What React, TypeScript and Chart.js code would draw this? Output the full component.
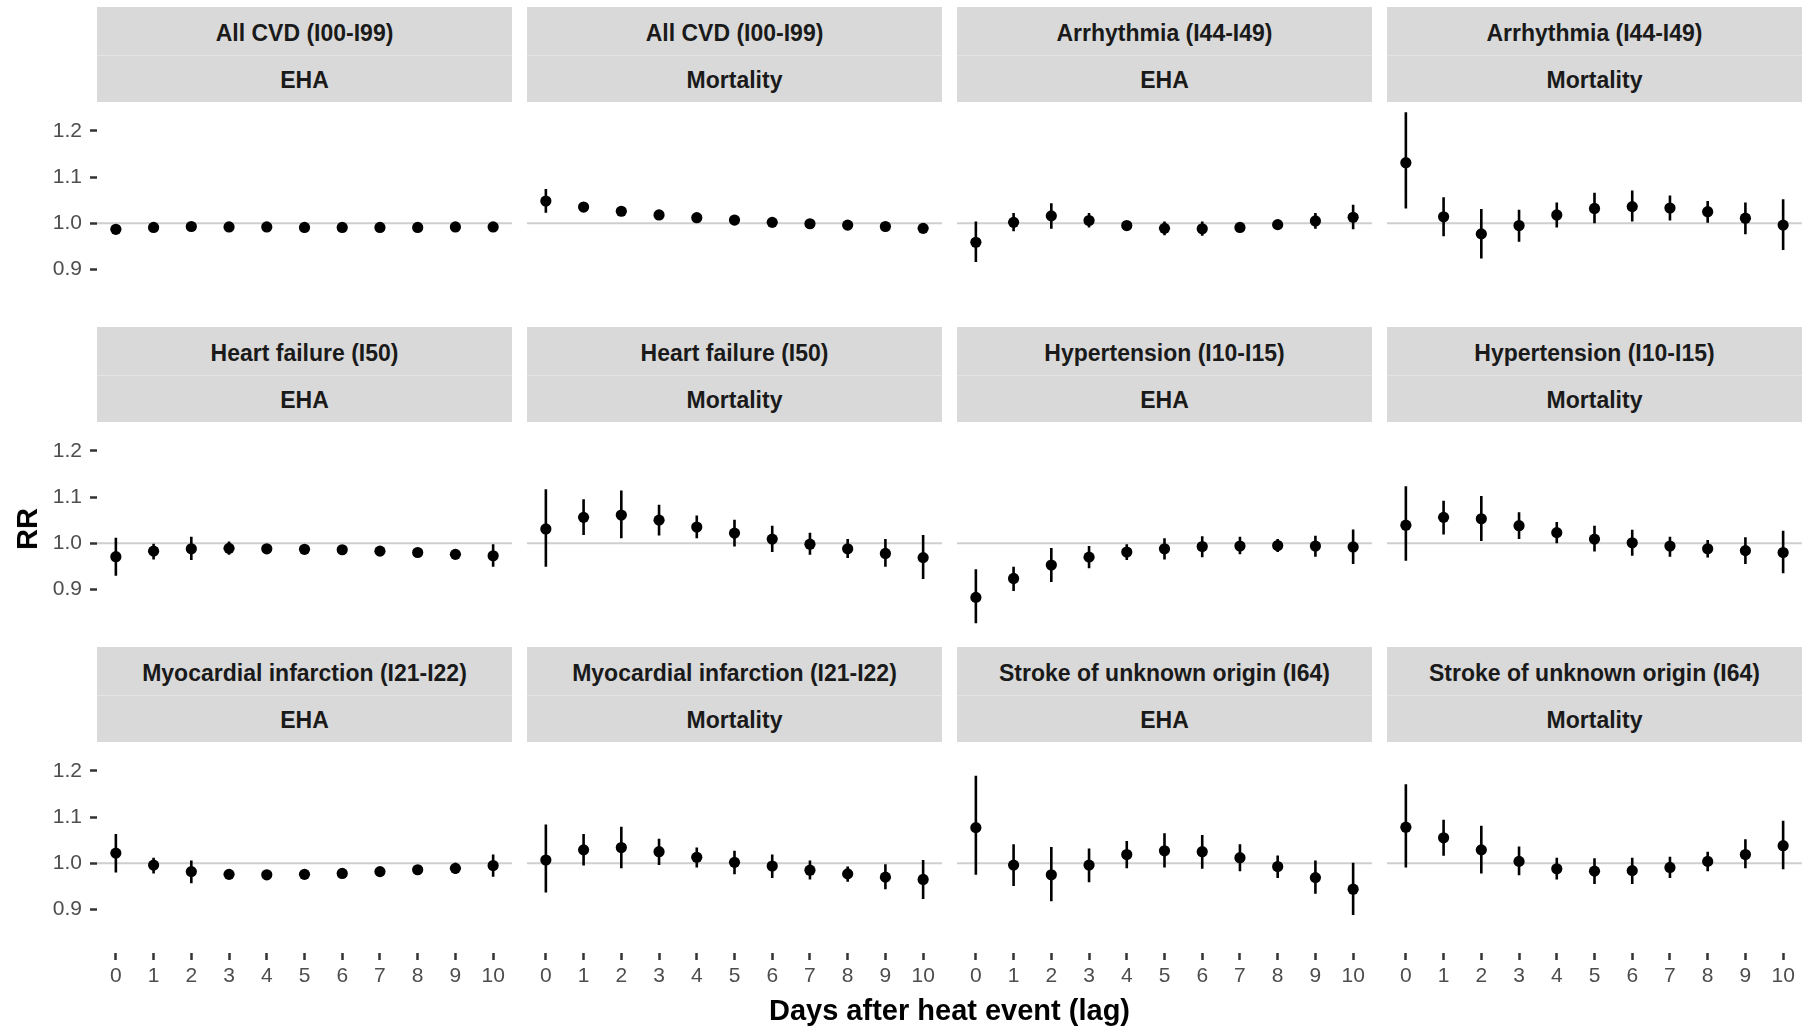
import React, { useEffect, useRef } from 'react';
import { Chart, registerables } from 'chart.js';

Chart.register(...registerables);

// ---------- data ----------
const lags = [0, 1, 2, 3, 4, 5, 6, 7, 8, 9, 10];
const yTicks = [0.9, 1.0, 1.1, 1.2];
const referenceRR = 1.0;

const outcomes = [
  'All CVD (I00-I99)',
  'Arrhythmia (I44-I49)',
  'Heart failure (I50)',
  'Hypertension (I10-I15)',
  'Myocardial infarction (I21-I22)',
  'Stroke of unknown origin (I64)',
];
const measures = ['EHA', 'Mortality'];

// All CVD – EHA
const allCvdEhaRR = [0.987, 0.991, 0.993, 0.992, 0.992, 0.991, 0.991, 0.991, 0.991, 0.992, 0.992];
const allCvdEhaLo = [0.979, 0.988, 0.990, 0.989, 0.989, 0.988, 0.988, 0.988, 0.988, 0.989, 0.989];
const allCvdEhaHi = [0.995, 0.994, 0.996, 0.995, 0.995, 0.994, 0.994, 0.994, 0.994, 0.995, 0.995];
// All CVD – Mortality
const allCvdMortRR = [1.048, 1.035, 1.026, 1.018, 1.012, 1.007, 1.002, 0.999, 0.996, 0.993, 0.989];
const allCvdMortLo = [1.023, 1.030, 1.016, 1.012, 1.007, 1.002, 0.997, 0.995, 0.992, 0.989, 0.980];
const allCvdMortHi = [1.074, 1.040, 1.037, 1.024, 1.017, 1.012, 1.007, 1.003, 1.000, 0.997, 0.998];
// Arrhythmia – EHA
const arrEhaRR = [0.959, 1.002, 1.016, 1.006, 0.995, 0.989, 0.988, 0.991, 0.997, 1.005, 1.013];
const arrEhaLo = [0.916, 0.983, 0.988, 0.991, 0.988, 0.974, 0.973, 0.983, 0.991, 0.988, 0.987];
const arrEhaHi = [1.004, 1.022, 1.043, 1.022, 1.002, 1.004, 1.004, 0.999, 1.003, 1.022, 1.040];
// Arrhythmia – Mortality
const arrMortRR = [1.131, 1.014, 0.977, 0.995, 1.018, 1.032, 1.036, 1.033, 1.025, 1.011, 0.996];
const arrMortLo = [1.032, 0.972, 0.924, 0.960, 0.991, 1.000, 1.004, 1.006, 1.001, 0.976, 0.942];
const arrMortHi = [1.240, 1.056, 1.031, 1.029, 1.045, 1.066, 1.071, 1.060, 1.048, 1.045, 1.052];
// Heart failure – EHA
const hfEhaRR = [0.971, 0.983, 0.988, 0.989, 0.988, 0.987, 0.986, 0.983, 0.980, 0.976, 0.973];
const hfEhaLo = [0.930, 0.965, 0.964, 0.975, 0.983, 0.979, 0.978, 0.977, 0.974, 0.966, 0.949];
const hfEhaHi = [1.012, 0.999, 1.014, 1.004, 0.993, 0.995, 0.994, 0.989, 0.986, 0.986, 0.998];
// Heart failure – Mortality
const hfMortRR = [1.031, 1.056, 1.061, 1.050, 1.035, 1.022, 1.009, 0.998, 0.988, 0.978, 0.969];
const hfMortLo = [0.949, 1.018, 1.011, 1.017, 1.011, 0.993, 0.981, 0.975, 0.968, 0.949, 0.923];
const hfMortHi = [1.117, 1.095, 1.114, 1.083, 1.060, 1.051, 1.038, 1.023, 1.009, 1.009, 1.018];
// Hypertension – EHA
const htEhaRR = [0.883, 0.924, 0.953, 0.970, 0.981, 0.988, 0.993, 0.994, 0.995, 0.994, 0.992];
const htEhaLo = [0.827, 0.897, 0.916, 0.946, 0.964, 0.965, 0.970, 0.976, 0.981, 0.971, 0.955];
const htEhaHi = [0.944, 0.949, 0.990, 0.994, 0.998, 1.011, 1.015, 1.014, 1.009, 1.016, 1.030];
// Hypertension – Mortality
const htMortRR = [1.039, 1.056, 1.053, 1.038, 1.023, 1.009, 1.001, 0.994, 0.988, 0.984, 0.980];
const htMortLo = [0.962, 1.019, 1.005, 1.009, 1.000, 0.982, 0.973, 0.971, 0.969, 0.955, 0.935];
const htMortHi = [1.123, 1.092, 1.102, 1.067, 1.046, 1.038, 1.029, 1.014, 1.007, 1.013, 1.027];
// Myocardial infarction – EHA
const miEhaRR = [1.022, 0.996, 0.982, 0.976, 0.975, 0.976, 0.978, 0.982, 0.986, 0.989, 0.995];
const miEhaLo = [0.980, 0.978, 0.957, 0.968, 0.969, 0.968, 0.970, 0.976, 0.980, 0.977, 0.971];
const miEhaHi = [1.063, 1.012, 1.006, 0.984, 0.981, 0.984, 0.986, 0.988, 0.992, 1.001, 1.019];
// Myocardial infarction – Mortality
const miMortRR = [1.007, 1.029, 1.034, 1.025, 1.013, 1.002, 0.994, 0.985, 0.977, 0.970, 0.965];
const miMortLo = [0.937, 0.995, 0.989, 0.996, 0.991, 0.976, 0.968, 0.965, 0.960, 0.944, 0.923];
const miMortHi = [1.084, 1.063, 1.079, 1.053, 1.034, 1.027, 1.019, 1.006, 0.993, 0.998, 1.007];
// Stroke of unknown origin – EHA
const strokeEhaRR = [1.077, 0.996, 0.975, 0.996, 1.019, 1.027, 1.025, 1.012, 0.993, 0.969, 0.944];
const strokeEhaLo = [0.975, 0.951, 0.918, 0.959, 0.989, 0.991, 0.988, 0.983, 0.968, 0.934, 0.888];
const strokeEhaHi = [1.189, 1.041, 1.035, 1.032, 1.048, 1.065, 1.061, 1.041, 1.017, 1.006, 1.001];
// Stroke of unknown origin – Mortality
const strokeMortRR = [1.078, 1.055, 1.029, 1.004, 0.988, 0.983, 0.984, 0.991, 1.004, 1.019, 1.038];
const strokeMortLo = [0.991, 1.016, 0.978, 0.974, 0.965, 0.955, 0.955, 0.968, 0.983, 0.989, 0.987];
const strokeMortHi = [1.171, 1.094, 1.081, 1.036, 1.012, 1.011, 1.012, 1.014, 1.025, 1.052, 1.092];

const panels = [
  { outcome: outcomes[0], measure: measures[0], rr: allCvdEhaRR, lo: allCvdEhaLo, hi: allCvdEhaHi },
  { outcome: outcomes[0], measure: measures[1], rr: allCvdMortRR, lo: allCvdMortLo, hi: allCvdMortHi },
  { outcome: outcomes[1], measure: measures[0], rr: arrEhaRR, lo: arrEhaLo, hi: arrEhaHi },
  { outcome: outcomes[1], measure: measures[1], rr: arrMortRR, lo: arrMortLo, hi: arrMortHi },
  { outcome: outcomes[2], measure: measures[0], rr: hfEhaRR, lo: hfEhaLo, hi: hfEhaHi },
  { outcome: outcomes[2], measure: measures[1], rr: hfMortRR, lo: hfMortLo, hi: hfMortHi },
  { outcome: outcomes[3], measure: measures[0], rr: htEhaRR, lo: htEhaLo, hi: htEhaHi },
  { outcome: outcomes[3], measure: measures[1], rr: htMortRR, lo: htMortLo, hi: htMortHi },
  { outcome: outcomes[4], measure: measures[0], rr: miEhaRR, lo: miEhaLo, hi: miEhaHi },
  { outcome: outcomes[4], measure: measures[1], rr: miMortRR, lo: miMortLo, hi: miMortHi },
  { outcome: outcomes[5], measure: measures[0], rr: strokeEhaRR, lo: strokeEhaLo, hi: strokeEhaHi },
  { outcome: outcomes[5], measure: measures[1], rr: strokeMortRR, lo: strokeMortLo, hi: strokeMortHi },
];

// ---------- layout ----------
const FONT = '"Liberation Sans", Arial, Helvetica, sans-serif';
const X_MIN = -0.5;
const X_MAX = 10.5;
const Y_MIN = 0.806;
const Y_MAX = 1.26;
const COL_X = [97, 527, 957, 1387];
const STRIP_Y = [7, 327, 647];
const PANEL_W = 415;
const STRIP_H = 95;
const PANEL_H = 210;
const Y_AXIS_W = 97;
const X_AXIS_H = 50;

type PanelProps = {
  rr: number[];
  lo: number[];
  hi: number[];
  showY: boolean;
  showX: boolean;
};

const zeroPadding = (s: any) => {
  s.paddingTop = 0;
  s.paddingBottom = 0;
  s.paddingLeft = 0;
  s.paddingRight = 0;
};

function Panel({ rr, lo, hi, showY, showX }: PanelProps) {
  const ref = useRef<HTMLCanvasElement | null>(null);
  const w = PANEL_W + (showY ? Y_AXIS_W : 0);
  const h = PANEL_H + (showX ? X_AXIS_H : 0);

  useEffect(() => {
    if (!ref.current) return;
    const errData: { x: number; y: number | null }[] = [];
    lags.forEach((l, i) => {
      errData.push({ x: l, y: lo[i] });
      errData.push({ x: l, y: hi[i] });
      errData.push({ x: l, y: null });
    });
    const chart = new Chart(ref.current, {
      type: 'scatter',
      data: {
        datasets: [
          {
            type: 'line',
            data: [
              { x: X_MIN, y: referenceRR },
              { x: X_MAX, y: referenceRR },
            ],
            borderColor: '#cfcfcf',
            borderWidth: 2.2,
            pointRadius: 0,
            order: 3,
          } as any,
          {
            type: 'line',
            data: errData,
            borderColor: '#000000',
            borderWidth: 2.6,
            borderCapStyle: 'butt',
            pointRadius: 0,
            spanGaps: false,
            tension: 0,
            order: 2,
          } as any,
          {
            type: 'scatter',
            data: lags.map((l, i) => ({ x: l, y: rr[i] })),
            backgroundColor: '#000000',
            borderWidth: 0,
            pointRadius: 5.6,
            pointHoverRadius: 5.6,
            order: 1,
          } as any,
        ],
      },
      options: {
        animation: false,
        responsive: false,
        maintainAspectRatio: false,
        devicePixelRatio: 1,
        layout: { padding: 0, autoPadding: false },
        plugins: { legend: { display: false }, tooltip: { enabled: false } },
        events: [],
        scales: {
          x: {
            type: 'linear',
            min: X_MIN,
            max: X_MAX,
            display: showX,
            afterBuildTicks: (s: any) => {
              s.ticks = lags.map((v) => ({ value: v }));
            },
            afterFit: (s: any) => {
              s.height = showX ? X_AXIS_H : 0;
              zeroPadding(s);
            },
            border: { display: false },
            grid: {
              drawOnChartArea: false,
              drawTicks: true,
              tickLength: 7,
              tickColor: '#333333',
              tickWidth: 2.5,
            },
            ticks: {
              display: showX,
              autoSkip: false,
              maxRotation: 0,
              padding: 4,
              color: '#4d4d4d',
              font: { family: FONT, size: 21 },
              callback: (v: any) => String(v),
            },
          },
          y: {
            type: 'linear',
            min: Y_MIN,
            max: Y_MAX,
            display: showY,
            afterBuildTicks: (s: any) => {
              s.ticks = yTicks.map((v) => ({ value: v }));
            },
            afterFit: (s: any) => {
              s.width = showY ? Y_AXIS_W : 0;
              zeroPadding(s);
            },
            border: { display: false },
            grid: {
              drawOnChartArea: false,
              drawTicks: true,
              tickLength: 7,
              tickColor: '#333333',
              tickWidth: 2.5,
            },
            ticks: {
              display: showY,
              padding: 8,
              color: '#4d4d4d',
              font: { family: FONT, size: 21 },
              callback: (v: any) => Number(v).toFixed(1),
            },
          },
        },
      },
    });
    return () => chart.destroy();
  }, [rr, lo, hi, showY, showX]);

  return <canvas ref={ref} width={w} height={h} style={{ width: w, height: h, display: 'block' }} />;
}

export default function App() {
  return (
    <div
      style={{
        position: 'absolute',
        left: 0,
        top: 0,
        width: 1804,
        height: 1027,
        background: '#ffffff',
        fontFamily: FONT,
        overflow: 'hidden',
      }}
    >
      {panels.map((p, idx) => {
        const r = Math.floor(idx / 4);
        const c = idx % 4;
        const x0 = COL_X[c];
        const sy = STRIP_Y[r];
        const showY = c === 0;
        const showX = r === 2;
        return (
          <React.Fragment key={idx}>
            <div
              style={{
                position: 'absolute',
                left: x0,
                top: sy,
                width: PANEL_W,
                height: 48,
                background: '#d9d9d9',
                color: '#1a1a1a',
                fontWeight: 'bold',
                fontSize: 23,
                lineHeight: '52px',
                textAlign: 'center',
                whiteSpace: 'nowrap',
              }}
            >
              {p.outcome}
            </div>
            <div
              style={{
                position: 'absolute',
                left: x0,
                top: sy + 48,
                width: PANEL_W,
                height: STRIP_H - 48,
                background: '#d9d9d9',
                borderTop: '1px solid #e4e4e4',
                boxSizing: 'border-box',
                color: '#1a1a1a',
                fontWeight: 'bold',
                fontSize: 23,
                lineHeight: '49px',
                textAlign: 'center',
                whiteSpace: 'nowrap',
              }}
            >
              {p.measure}
            </div>
            <div
              style={{
                position: 'absolute',
                left: x0 - (showY ? Y_AXIS_W : 0),
                top: sy + STRIP_H + 1,
              }}
            >
              <Panel rr={p.rr} lo={p.lo} hi={p.hi} showY={showY} showX={showX} />
            </div>
          </React.Fragment>
        );
      })}
      <div
        style={{
          position: 'absolute',
          left: 97,
          width: 1705,
          top: 990,
          textAlign: 'center',
          fontWeight: 'bold',
          fontSize: 29,
          lineHeight: '40px',
          color: '#000000',
          whiteSpace: 'nowrap',
        }}
      >
        Days after heat event (lag)
      </div>
      <div
        style={{
          position: 'absolute',
          left: 27,
          top: 529,
          transform: 'translate(-50%, -50%) rotate(-90deg)',
          fontWeight: 'bold',
          fontSize: 29,
          lineHeight: '34px',
          color: '#000000',
          whiteSpace: 'nowrap',
        }}
      >
        RR
      </div>
    </div>
  );
}
